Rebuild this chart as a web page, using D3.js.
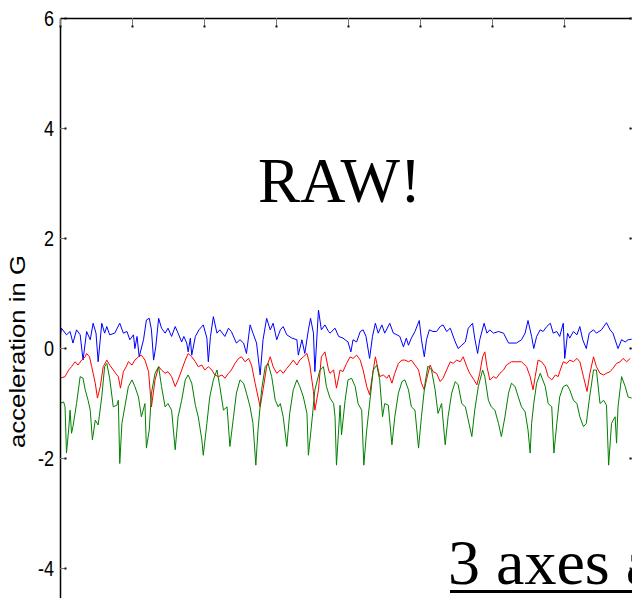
<!DOCTYPE html>
<html>
<head>
<meta charset="utf-8">
<script src="https://cdn.jsdelivr.net/npm/d3@7"></script>
<style>
  html, body { margin: 0; padding: 0; background: #fff; }
  svg { display: block; }
</style>
</head>
<body>
<svg id="chart" width="632" height="598"></svg>
<script>
// [sample, acceleration in G]
const blueAxis = [[0,.18],[2,.36],[9,.24],[14,.30],[18,.09],[23,.33],[28,.24],[32,-.22],[37,.30],[42,.15],[46,.45],[50,.27],[53,-.25],[58,.45],[62,.27],[65,.39],[69,.24],[76,.27],[83,.45],[88,.27],[93,.30],[97,.15],[102,.24],[104,-.01],[107,.21],[110,-.16],[116,.15],[120,.51],[124,.54],[127,.33],[130,-.22],[133,.02],[137,.54],[141,.36],[146,.27],[150,.36],[155,.21],[160,.39],[164,.27],[169,.11],[172,.21],[176,.09],[178,-.07],[181,.18],[183,-.13],[188,.21],[193,.33],[199,.42],[204,.18],[206,-.25],[209,.21],[213,.57],[218,.27],[222,.33],[229,.21],[234,.36],[238,.30],[245,.09],[250,.15],[255,.09],[259,-.10],[264,.42],[268,.27],[273,.09],[278,-.49],[282,.15],[287,.54],[292,.33],[296,.45],[301,.15],[306,.33],[310,.39],[315,.24],[322,.18],[329,.15],[331,-.13],[336,.15],[340,-.10],[345,.33],[348,.54],[352,.27],[354,-.43],[359,.69],[363,.33],[368,.42],[373,.30],[375,.27],[382,.36],[387,.21],[393,.18],[400,.11],[404,-.07],[407,.15],[412,.11],[417,.30],[421,.33],[425,.21],[430,-.19],[434,.21],[438,.45],[442,.27],[447,.42],[451,.27],[458,.45],[463,.27],[468,.24],[472,.21],[477,.02],[481,.18],[484,.05],[488,.18],[493,.30],[499,.50],[502,.15],[506,-.16],[509,.15],[513,.33],[518,.30],[523,.30],[528,.39],[532,.42],[537,.30],[542,.36],[549,.11],[553,-.01],[558,.05],[563,.11],[567,.36],[573,.45],[576,.18],[580,-.10],[583,.15],[589,.45],[593,.27],[597,.33],[602,.27],[609,.30],[616,.27],[623,.09],[634,.09],[641,.15],[646,.27],[650,.50],[655,.21],[658,-.01],[662,.21],[667,.33],[671,.30],[676,.39],[681,.45],[685,.27],[690,.30],[694,.21],[699,.45],[701,-.19],[705,.27],[708,.18],[713,.30],[718,.24],[722,.39],[726,.15],[731,-.01],[735,.27],[741,.33],[745,.27],[752,.33],[759,.46],[764,.33],[768,.27],[775,-.01],[780,.15],[785,.11],[789,.15],[794,.16]];

const redAxis = [[0,-.55],[7,-.52],[12,-.40],[16,-.34],[21,-.25],[25,-.31],[30,-.22],[35,-.16],[37,-.10],[41,-.16],[44,-.34],[49,-.64],[52,-.91],[56,-.70],[60,-.34],[65,-.22],[69,-.31],[74,-.40],[79,-.49],[81,-.52],[84,-.73],[88,-.43],[92,-.34],[95,-.25],[100,-.31],[104,-.22],[109,-.16],[113,-.13],[118,-.22],[123,-.43],[127,-1.07],[132,-.58],[137,-.34],[141,-.40],[146,-.46],[150,-.43],[155,-.52],[160,-.70],[164,-.58],[169,-.40],[174,-.22],[178,-.10],[183,-.16],[188,-.25],[192,-.34],[197,-.31],[201,-.40],[206,-.34],[211,-.40],[215,-.49],[220,-.52],[225,-.49],[229,-.55],[234,-.46],[238,-.40],[243,-.28],[248,-.19],[252,-.16],[257,-.25],[262,-.19],[266,-.31],[271,-.64],[278,-1.07],[282,-.76],[287,-.34],[292,-.16],[296,-.34],[301,-.46],[306,-.40],[310,-.46],[315,-.37],[319,-.31],[324,-.22],[329,-.31],[333,-.22],[338,-.16],[343,-.10],[347,-.31],[352,-.79],[354,-1.13],[359,-.76],[363,-.16],[368,-.07],[373,-.40],[375,-.46],[380,-.40],[384,-.73],[389,-.40],[393,-.43],[398,-.28],[403,-.16],[407,-.19],[412,-.13],[417,-.22],[421,-.40],[426,-.70],[430,-.85],[433,-.58],[438,-.16],[442,-.40],[444,-.52],[449,-.49],[454,-.55],[457,-.49],[461,-.64],[465,-.46],[470,-.28],[475,-.22],[479,-.22],[484,-.25],[488,-.22],[493,-.31],[498,-.40],[502,-.64],[506,-.76],[509,-.58],[514,-.31],[518,-.43],[523,-.46],[528,-.61],[532,-.55],[537,-.40],[542,-.25],[546,-.28],[551,-.22],[556,-.25],[560,-.16],[565,-.34],[569,-.46],[575,-.58],[579,-.67],[583,-.46],[587,-.16],[590,-.07],[593,-.34],[597,-.58],[602,-.52],[606,-.55],[611,-.46],[616,-.40],[620,-.31],[627,-.25],[634,-.25],[641,-.25],[648,-.34],[653,-.52],[657,-.76],[660,-.52],[664,-.22],[669,-.25],[674,-.34],[678,-.52],[683,-.58],[688,-.49],[692,-.52],[694,-.43],[699,-.25],[704,-.28],[708,-.22],[713,-.25],[718,-.19],[722,-.25],[727,-.52],[732,-.79],[736,-.46],[741,-.16],[745,-.34],[750,-.46],[755,-.49],[759,-.46],[764,-.43],[768,-.37],[773,-.28],[778,-.25],[782,-.19],[787,-.25],[792,-.19]];

const greenAxis = [[0,-1.01],[5,-.98],[7,-1.07],[9,-1.91],[12,-1.49],[14,-1.13],[16,-1.55],[18,-1.43],[23,-1.01],[28,-.52],[32,-.55],[35,-.76],[39,-.95],[42,-1.13],[45,-1.67],[49,-1.31],[53,-1.40],[58,-.89],[62,-.34],[65,-.28],[69,-.55],[74,-1.07],[79,-1.04],[81,-.95],[83,-2.10],[86,-1.37],[90,-1.07],[95,-.70],[100,-.58],[104,-.70],[109,-.89],[113,-1.25],[118,-1.01],[120,-1.82],[124,-1.49],[127,-.82],[132,-.46],[137,-.34],[141,-.70],[146,-1.07],[150,-1.01],[155,-1.13],[160,-1.85],[164,-1.25],[169,-.95],[174,-.58],[178,-.49],[183,-.64],[188,-1.04],[192,-1.25],[197,-1.67],[199,-1.95],[204,-1.37],[208,-.89],[213,-.58],[218,-.40],[222,-.70],[227,-1.13],[232,-1.07],[236,-1.79],[241,-1.25],[245,-.82],[250,-.58],[255,-.64],[259,-.82],[264,-1.07],[268,-1.37],[272,-2.13],[275,-1.49],[280,-.76],[285,-.34],[289,-.28],[294,-.52],[299,-.95],[303,-1.07],[306,-1.01],[310,-1.25],[315,-1.79],[319,-1.19],[324,-.76],[329,-.58],[333,-.70],[338,-.89],[343,-1.19],[345,-1.95],[350,-1.31],[354,-.76],[361,-.40],[366,-.34],[370,-.70],[375,-.91],[380,-1.01],[382,-1.25],[384,-2.13],[387,-1.49],[389,-1.04],[391,-1.58],[396,-.95],[400,-.58],[405,-.55],[410,-.70],[414,-1.01],[419,-1.13],[422,-2.13],[426,-1.49],[431,-.89],[435,-.40],[440,-.31],[444,-.58],[448,-1.25],[451,-1.01],[456,-1.04],[461,-1.76],[465,-1.25],[470,-.82],[475,-.61],[479,-.58],[484,-.76],[488,-1.07],[493,-1.13],[498,-1.82],[502,-1.25],[507,-.64],[511,-.33],[516,-.40],[521,-.76],[525,-1.19],[530,-1.01],[535,-1.76],[539,-1.25],[544,-.82],[549,-.61],[553,-.67],[558,-1.01],[563,-1.07],[567,-1.31],[572,-1.61],[576,-1.13],[581,-.70],[587,-.40],[590,-.52],[595,-.95],[599,-1.07],[604,-1.13],[609,-1.37],[613,-1.61],[618,-1.25],[623,-.82],[627,-.64],[632,-.70],[637,-.91],[641,-1.07],[646,-1.16],[650,-1.49],[653,-1.91],[655,-1.37],[658,-1.01],[662,-.64],[667,-.46],[674,-.70],[678,-1.01],[683,-1.07],[686,-1.91],[690,-1.37],[694,-.89],[699,-.70],[704,-.67],[708,-.76],[713,-.95],[718,-1.01],[722,-1.25],[727,-1.43],[731,-1.37],[735,-.95],[741,-.40],[745,-.40],[750,-1.01],[755,-.95],[759,-1.04],[762,-2.13],[766,-1.37],[771,-1.25],[773,-1.73],[775,-1.07],[780,-.52],[785,-.70],[789,-.89],[794,-.91]];

const yTicks = [-4, -2, 0, 2, 4, 6];
const xTicks = [0, 100, 200, 300, 400, 500, 600, 700, 800];
const yLabel = 'acceleration in G';
const slideTitle = 'RAW!';
const slideNote = '3 axes a';

// svg config
const width = 632, height = 598;
const plot = { left: 60, right: 636, top: 18, bottom: 678 };

const svg = d3.select('#chart');
svg.append('rect').attr('width', width).attr('height', height).attr('fill', '#fff');

const xScale = d3.scaleLinear().domain([0, 800]).range([plot.left, plot.right]);
const yScale = d3.scaleLinear().domain([-6, 6]).range([plot.bottom, plot.top]);

svg.append('clipPath').attr('id', 'plotClip')
  .append('rect')
  .attr('x', plot.left).attr('y', plot.top)
  .attr('width', plot.right - plot.left).attr('height', plot.bottom - plot.top);

// traces
const line = d3.line().x(d => xScale(d[0])).y(d => yScale(d[1]));
[
  { data: blueAxis, color: '#0000ff' },
  { data: redAxis, color: '#ff0000' },
  { data: greenAxis, color: '#008000' },
].forEach(s => {
  svg.append('path')
    .datum(s.data)
    .attr('clip-path', 'url(#plotClip)')
    .attr('fill', 'none')
    .attr('stroke', s.color)
    .attr('stroke-width', 1)
    .attr('stroke-linejoin', 'round')
    .attr('d', line);
});

// axes (ticks point inward, MATLAB box style)
const styleAxis = (g, dotX, dotY) => {
  g.select('.domain').attr('stroke', '#000').attr('stroke-width', 1.5);
  g.selectAll('.tick line').attr('stroke', '#777').attr('stroke-width', 1);
  g.selectAll('.tick').append('rect')
    .attr('x', dotX - 1).attr('y', dotY - 1)
    .attr('width', 2).attr('height', 2)
    .attr('fill', '#111');
};

const labelScale = 0.82;
const leftAxis = svg.append('g')
  .attr('transform', `translate(${plot.left},0)`)
  .call(d3.axisLeft(yScale).tickValues(yTicks).tickSizeInner(-6).tickSizeOuter(0).tickPadding(6)
    .tickFormat(d => String(d)));
styleAxis(leftAxis, 5.5, 0);
leftAxis.selectAll('.tick text')
  .attr('x', -6 / labelScale)
  .attr('transform', `scale(${labelScale},1)`)
  .attr('dy', '0.36em')
  .style('font-family', '"Liberation Sans", Arial, sans-serif')
  .style('font-size', '22px')
  .attr('fill', '#000');

const topAxis = svg.append('g')
  .attr('transform', `translate(0,${plot.top})`)
  .call(d3.axisTop(xScale).tickValues(xTicks).tickSizeInner(-9).tickSizeOuter(0).tickFormat(''));
styleAxis(topAxis, 0, 8.5);

const rightAxis = svg.append('g')
  .attr('transform', `translate(${plot.right},0)`)
  .call(d3.axisRight(yScale).tickValues(yTicks).tickSizeInner(-6).tickSizeOuter(0).tickFormat(''));
styleAxis(rightAxis, -5.5, 0);

// y label
svg.append('text')
  .attr('transform', 'translate(25,351.5) rotate(-90) scale(1,0.85)')
  .attr('text-anchor', 'middle')
  .style('font-family', '"Liberation Sans", Arial, sans-serif')
  .style('font-size', '25.7px')
  .attr('fill', '#000')
  .text(yLabel);

// slide texts over the figure
svg.append('text')
  .attr('x', 339.5).attr('y', 202)
  .attr('text-anchor', 'middle')
  .style('font-family', '"Liberation Serif", "Times New Roman", serif')
  .style('font-size', '63px')
  .attr('fill', '#000')
  .text(slideTitle);

svg.append('text')
  .attr('x', 448).attr('y', 584)
  .style('font-family', '"Liberation Serif", "Times New Roman", serif')
  .style('font-size', '64px')
  .attr('fill', '#000')
  .text(slideNote);
svg.append('line')
  .attr('x1', 450).attr('x2', 640)
  .attr('y1', 591.5).attr('y2', 591.5)
  .attr('stroke', '#000').attr('stroke-width', 3);
</script>
</body>
</html>
